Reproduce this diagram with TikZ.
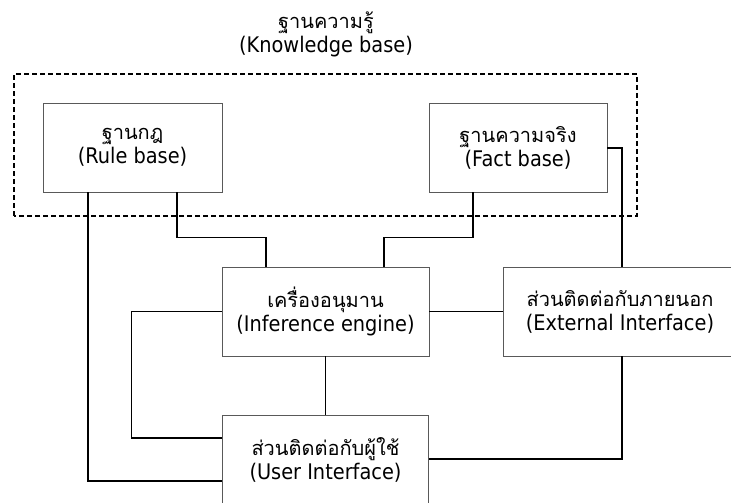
\documentclass[tikz,border=0pt]{standalone}
\usepackage{fontspec}
\setmainfont{DejaVu Sans}[FakeStretch=0.9]
\newfontfamily\thaifont[Script=Thai]{Loma}
\newcommand{\thl}[1]{{\thaifont\fontsize{20}{24}\selectfont #1}}
\usetikzlibrary{positioning}

\tikzset{
  box/.style={draw=black!65, line width=0.6pt, align=center, inner sep=0pt,
    minimum height=89pt, font=\fontsize{21.5}{24}\selectfont},
  link/.style={line width=1.1pt},
}

\begin{document}
\begin{tikzpicture}[x=1pt, y=1pt]
  \useasboundingbox (0,0) rectangle (731,503);
  \clip (0,0) rectangle (731,503);

  % --- knowledge base ---
  \node[align=center, font=\fontsize{21.5}{24}\selectfont] (kbtitle) at (326,469)
    {\thl{ฐานความรู้}\\(Knowledge base)};
  \draw[line width=1.1pt, dash pattern=on 5pt off 3pt] (14,287) rectangle (637,429);

  \node[box, minimum width=179pt] (rule) at (132.5,355.5)
    {\thl{ฐานกฎ}\\(Rule base)};
  \node[box, minimum width=178pt] (fact) at (518,355.5)
    {\thl{ฐานความจริง}\\(Fact base)};

  % --- engine and interfaces ---
  \node[box, minimum width=207pt] (infer) at (325.5,191.5)
    {\thl{เครื่องอนุมาน}\\(Inference engine)};
  \node[box, minimum width=234pt] (ext) at (620,191.5)
    {\thl{ส่วนติดต่อกับภายนอก}\\(External Interface)};
  \node[box, minimum width=206pt, minimum height=90pt] (user) at (325.5,43)
    {\thl{ส่วนติดต่อกับผู้ใช้}\\(User Interface)};

  % --- connectors ---
  \draw[link] ([xshift=-44.5pt]rule.south) |- ([yshift=-21pt]user.west);
  \draw[link] ([xshift=44.5pt]rule.south) -- ++(0,-45)
    -| ([xshift=-59.5pt]infer.north);
  \draw[link] ([xshift=-45pt]fact.south) -- ++(0,-45)
    -| ([xshift=58.5pt]infer.north);
  \draw[link] ([yshift=-0.5pt]fact.east) -| ([xshift=2pt]ext.north);
  \draw[link] (infer.east) -- (ext.west);
  \draw[link] (infer.south) -- (user.north);
  \draw[link] (infer.west) -- ++(-90,0) |- ([yshift=22pt]user.west);
  \draw[link] ([xshift=2pt]ext.south) |- ([yshift=1pt]user.east);

\end{tikzpicture}
\end{document}
